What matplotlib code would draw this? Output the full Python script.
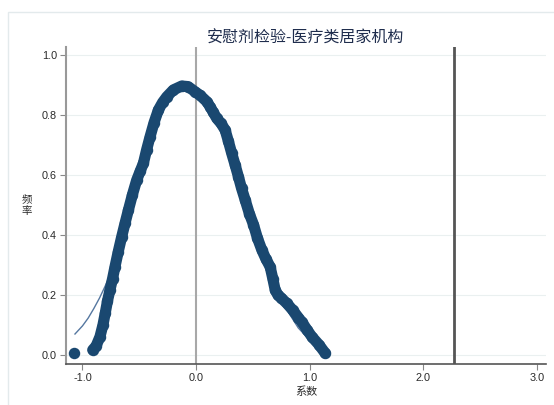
import matplotlib
matplotlib.use("Agg")
import matplotlib.pyplot as plt
from matplotlib.patches import Rectangle

plt.rcParams['font.family'] = ['Liberation Sans', 'Noto Sans CJK SC', 'DejaVu Sans']

# placebo coefficients and their density
coef = [-1.075, -0.91, -0.88, -0.846, -0.82, -0.80, -0.78, -0.758, -0.735, -0.714,
        -0.685, -0.655, -0.625, -0.596, -0.56, -0.523, -0.49, -0.464, -0.435, -0.405,
        -0.37, -0.332, -0.295, -0.258, -0.2, -0.126, -0.07, -0.009, 0.035, 0.094,
        0.123, 0.15, 0.182, 0.22, 0.256, 0.285, 0.314, 0.345, 0.373, 0.40,
        0.432, 0.47, 0.505, 0.54, 0.579, 0.615, 0.652, 0.675, 0.696, 0.72,
        0.75, 0.799, 0.85, 0.90, 0.931, 0.975, 1.019, 1.08, 1.137]
dens = [0.006, 0.017, 0.03, 0.061, 0.10, 0.139, 0.18, 0.217, 0.255, 0.294,
        0.345, 0.394, 0.44, 0.483, 0.535, 0.583, 0.615, 0.639, 0.685, 0.728,
        0.775, 0.817, 0.842, 0.861, 0.884, 0.897, 0.895, 0.878, 0.866, 0.845,
        0.828, 0.81, 0.789, 0.772, 0.75, 0.712, 0.672, 0.632, 0.594, 0.556,
        0.517, 0.47, 0.435, 0.39, 0.35, 0.32, 0.294, 0.255, 0.217, 0.2,
        0.19, 0.172, 0.15, 0.125, 0.11, 0.085, 0.061, 0.035, 0.006]

# fitted curve
fit_x = [-1.066, -1.0, -0.95, -0.9, -0.85, -0.8, -0.72, -0.65, -0.55, -0.45, -0.35, -0.25,
         -0.12, 0.0, 0.1, 0.2, 0.3, 0.4, 0.5, 0.6, 0.7, 0.8, 0.9, 1.0, 1.05]
fit_y = [0.07, 0.097, 0.123, 0.155, 0.19, 0.23, 0.30, 0.38, 0.50, 0.64, 0.76, 0.85,
         0.89, 0.87, 0.83, 0.77, 0.68, 0.57, 0.45, 0.34, 0.23, 0.15, 0.09, 0.05, 0.035]

true_coef = 2.267

xticks = [-1.0, 0.0, 1.0, 2.0, 3.0]
yticks = [0.0, 0.2, 0.4, 0.6, 0.8, 1.0]

dot_color = '#1a4870'

fig = plt.figure(figsize=(5.54, 4.05), dpi=100)
ax = fig.add_axes([66/554, 1-364/405, 480/554, 317/405])

fig.patches.append(Rectangle((8/554, -0.1), 1.1, 1.1 - 12/405, transform=fig.transFigure,
                             fill=False, edgecolor='#e3eaec', lw=1))

for yt in yticks:
    ax.axhline(yt, color='#eaf0f0', lw=0.8, zorder=0)

ax.axvline(0, color='#a8a8a8', lw=1.5, zorder=1)
ax.axvline(true_coef, color='#555555', lw=2, zorder=1)

ax.plot(fit_x, fit_y, color='#5577a0', lw=1.0, zorder=1.5)
ax.plot(coef[1:], dens[1:], color=dot_color, lw=8.0, solid_capstyle='round',
        solid_joinstyle='round', zorder=2)
ax.scatter(coef, dens, s=68, color=dot_color, zorder=3, linewidths=0)

ax.set_xlim(-1.145, 3.08)
ax.set_ylim(-0.03, 1.027)
ax.set_xticks(xticks)
ax.set_xticklabels(['%.1f' % v for v in xticks])
ax.set_yticks(yticks)
ax.set_yticklabels(['%.1f' % v for v in yticks])
ax.tick_params(axis='both', labelsize=7.8, colors='#2a2a2a', length=4, width=0.8, pad=2.5)
ax.tick_params(axis='both', color='#888888')

for s in ['top', 'right']:
    ax.spines[s].set_visible(False)
ax.spines['left'].set_color('#999999')
ax.spines['left'].set_linewidth(1.5)
ax.spines['bottom'].set_color('#555555')
ax.spines['bottom'].set_linewidth(1.2)

fig.text(306/554, 1-38/405, '安慰剂检验-医疗类居家机构', ha='center', va='center',
         fontsize=11.5, color='#1f2d4d')
fig.text(306/554, 1-392/405, '系数', ha='center', va='center', fontsize=8, color='#2a2a2a')
fig.text(27/554, 1-205/405, '频\n率', ha='center', va='center', fontsize=7.5,
         color='#2a2a2a', linespacing=1.3)

fig.savefig('out.png', dpi=100)
